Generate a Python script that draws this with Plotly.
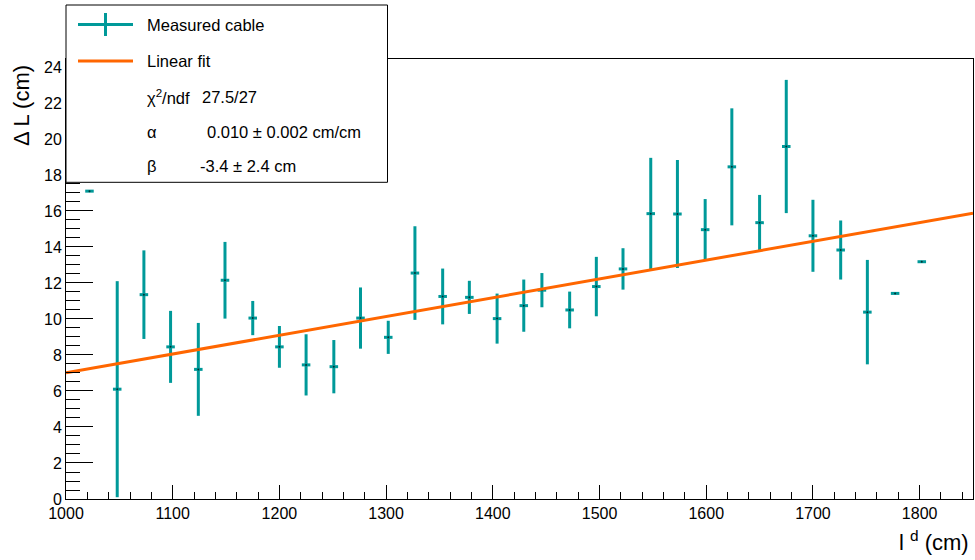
import plotly.graph_objects as go

# ---- data ----
length_cm = [1022, 1048, 1073, 1098, 1124, 1149, 1175, 1200, 1225, 1251, 1276,
             1302, 1327, 1353, 1378, 1404, 1429, 1446, 1472, 1497, 1522, 1548,
             1573, 1599, 1624, 1650, 1675, 1700, 1726, 1751, 1777, 1802]
delta_l = [17.1, 6.1, 11.35, 8.45, 7.2, 12.15, 10.05, 8.45, 7.45, 7.35, 10.05,
           8.98, 12.55, 11.25, 11.2, 10.02, 10.74, 11.6, 10.5, 11.8, 12.78, 15.85,
           15.83, 14.96, 18.45, 15.35, 19.58, 14.62, 13.83, 10.38, 11.42, 13.18]
delta_l_err = [0, 6.0, 2.46, 2.0, 2.58, 2.13, 0.95, 1.16, 1.7, 1.48, 1.7,
               0.92, 2.6, 1.55, 0.92, 1.39, 1.45, 0.95, 1.02, 1.65, 1.15, 3.1,
               3.0, 1.7, 3.25, 1.54, 3.7, 2.0, 1.64, 2.9, 0, 0]
length_err = [4] * len(length_cm)

fit_alpha = 0.01043
fit_beta = -3.42
fit_range = [1000, 1850]
fit_y = [fit_alpha * v + fit_beta for v in fit_range]

x_ticks = [1000, 1100, 1200, 1300, 1400, 1500, 1600, 1700, 1800]
y_ticks = [0, 2, 4, 6, 8, 10, 12, 14, 16, 18, 20, 22, 24]

legend_rows = ["Measured cable", "Linear fit"]
stat_names = ["\u03c7<sup>2</sup>/ndf", "\u03b1", "\u03b2"]
stat_values = ["27.5/27", "0.010 \u00b1 0.002 cm/cm", "-3.4 \u00b1 2.4 cm"]

TEAL = "#009999"
ORANGE = "#ff6600"
FONT = "Liberation Sans, Arial, Helvetica, sans-serif"

W, H = 975, 560
ML, MR, MT, MB = 66, 2, 59, 61
PW, PH = W - ML - MR, H - MT - MB


def px(x):
    return (x - ML) / PW


def py(y):
    return (MT + PH - y) / PH


fig = go.Figure()
fig.add_trace(go.Scatter(
    x=length_cm, y=delta_l, mode="markers",
    marker=dict(size=2, color="#003333"),
    error_y=dict(type="data", array=delta_l_err, visible=True,
                 color=TEAL, thickness=3, width=0),
    error_x=dict(type="data", array=length_err, visible=True,
                 color=TEAL, thickness=3, width=0),
    showlegend=False, hoverinfo="x+y",
))
fig.add_trace(go.Scatter(
    x=fit_range, y=fit_y, mode="lines",
    line=dict(color=ORANGE, width=3), showlegend=False,
))

shapes = []
annotations = []
# legend box
shapes.append(dict(type="rect", xref="paper", yref="paper",
                   x0=px(66), x1=px(387.5), y0=py(182.3), y1=py(5),
                   fillcolor="white", line=dict(color="black", width=1),
                   layer="above"))
# legend symbols
shapes.append(dict(type="line", xref="paper", yref="paper",
                   x0=px(78), x1=px(133), y0=py(24.5), y1=py(24.5),
                   line=dict(color=TEAL, width=3), layer="above"))
shapes.append(dict(type="line", xref="paper", yref="paper",
                   x0=px(105.5), x1=px(105.5), y0=py(13), y1=py(36),
                   line=dict(color=TEAL, width=3), layer="above"))
shapes.append(dict(type="line", xref="paper", yref="paper",
                   x0=px(78), x1=px(133), y0=py(61), y1=py(61),
                   line=dict(color=ORANGE, width=3), layer="above"))

row_y = [24.5, 61, 96.7, 131.7, 165.7]
for i, t in enumerate(legend_rows):
    annotations.append(dict(text=t, xref="paper", yref="paper",
                            x=px(145), y=py(row_y[i]), xanchor="left",
                            yanchor="middle", showarrow=False,
                            font=dict(family=FONT, size=16.5, color="black")))
val_x = [200, 205, 198]
for i, (n, v) in enumerate(zip(stat_names, stat_values)):
    annotations.append(dict(text=n, xref="paper", yref="paper",
                            x=px(145), y=py(row_y[i + 2]), xanchor="left",
                            yanchor="middle", showarrow=False,
                            font=dict(family=FONT, size=16.5, color="black")))
    annotations.append(dict(text=v, xref="paper", yref="paper",
                            x=px(val_x[i]), y=py(row_y[i + 2]), xanchor="left",
                            yanchor="middle", showarrow=False,
                            font=dict(family=FONT, size=16.5, color="black")))

# axis titles
annotations.append(dict(text="\u0394 L (cm)", xref="paper", yref="paper",
                        x=px(21), y=py(106), textangle=-90,
                        xanchor="center", yanchor="middle", showarrow=False,
                        font=dict(family=FONT, size=22, color="black")))
annotations.append(dict(text="l <sup>d</sup> (cm)", xref="paper", yref="paper",
                        x=px(971), y=py(541), xanchor="right",
                        yanchor="middle", showarrow=False,
                        font=dict(family=FONT, size=22, color="black")))

fig.update_layout(
    width=W, height=H,
    margin=dict(l=ML, r=MR, t=MT, b=MB, pad=0),
    paper_bgcolor="white", plot_bgcolor="white",
    font=dict(family=FONT, size=16, color="black"),
    shapes=shapes, annotations=annotations,
    xaxis=dict(range=fit_range, tickmode="array", tickvals=x_ticks,
               ticktext=[str(v) for v in x_ticks],
               ticks="inside", ticklen=14, tickwidth=1, tickcolor="black",
               minor=dict(dtick=20, tick0=1000, ticks="inside", ticklen=7,
                          tickcolor="black", tickwidth=1, showgrid=False),
               showline=True, linecolor="black", linewidth=1, mirror=True,
               showgrid=False, zeroline=False,
               tickfont=dict(family=FONT, size=16, color="black")),
    yaxis=dict(range=[0, 24.44], tickmode="array", tickvals=y_ticks,
               ticktext=[str(v) for v in y_ticks],
               ticks="inside", ticklen=27, tickwidth=1, tickcolor="black",
               minor=dict(dtick=0.5, tick0=0, ticks="inside", ticklen=14,
                          tickcolor="black", tickwidth=1, showgrid=False),
               showline=True, linecolor="black", linewidth=1, mirror=True,
               showgrid=False, zeroline=False,
               tickfont=dict(family=FONT, size=16, color="black")),
)

fig.write_html("out.html",
               config={"displayModeBar": False},
               post_script="document.body.style.margin='0';"
                           "document.body.style.overflow='hidden';")
